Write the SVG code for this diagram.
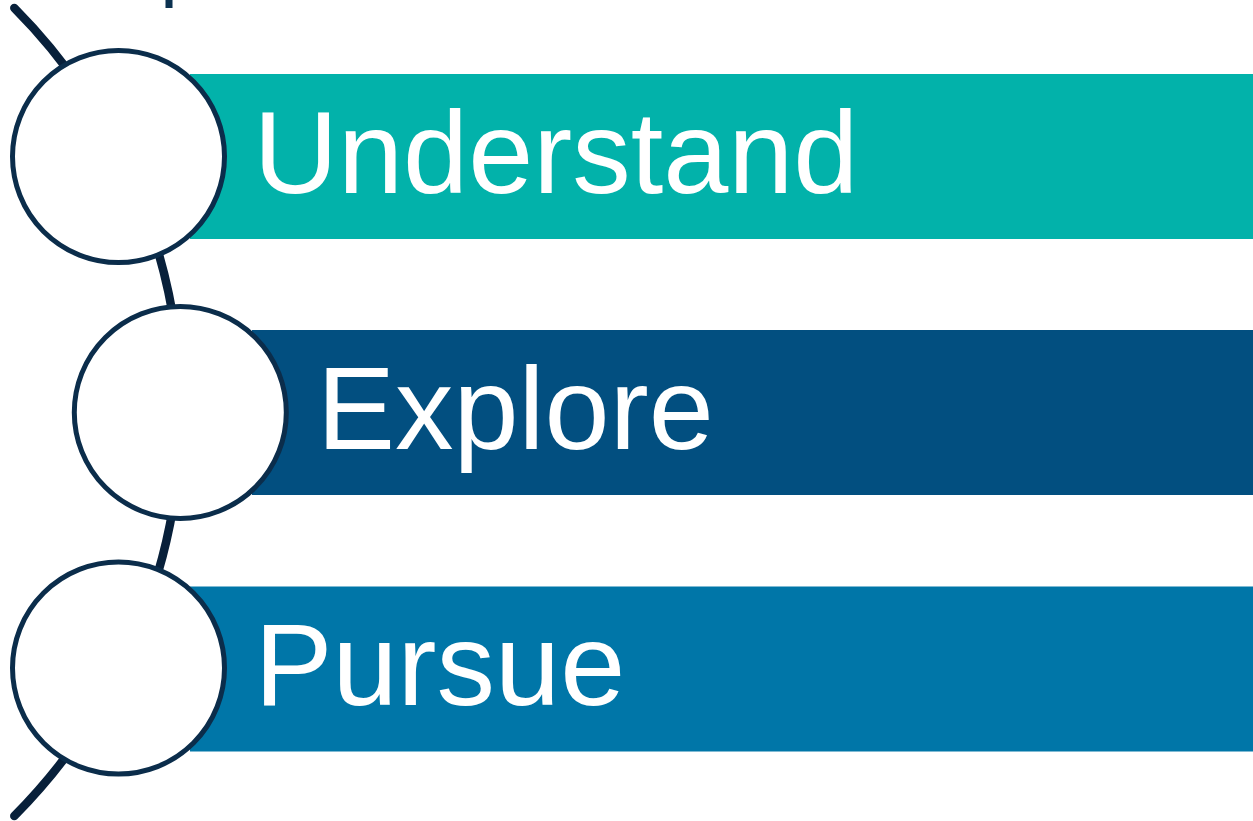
<svg xmlns="http://www.w3.org/2000/svg" width="1253" height="821" viewBox="0 0 1253 821">
  <style>
    .bar { stroke: none; }
    .node-circle { fill: #ffffff; stroke: #0b2d4b; stroke-width: 5; }
    .label { font-family: "Liberation Sans", Arial, sans-serif; font-size: 117px; fill: #ffffff; }
    .spine { fill: none; stroke: #08203a; stroke-width: 8.5; stroke-linecap: round; }
  </style>
  <rect width="1253" height="821" fill="#ffffff"/>

  <!-- small fragment at the top edge -->
  <rect x="165.5" y="0" width="7" height="8" fill="#0b3150"/>

  <!-- connectors: the curved spine linking the three steps -->
  <g id="connectors">
    <path class="spine" d="M 14.3 8 A 573 573 0 0 1 14.3 816"/>
  </g>

  <g id="node-understand">
    <rect class="bar" x="190" y="74" width="1063" height="165" fill="#02b2aa"/>
    <circle class="node-circle" cx="118.5" cy="156.5" r="106"/>
    <text class="label" x="253.5" y="193.3">Understand</text>
  </g>

  <g id="node-explore">
    <rect class="bar" x="252" y="330" width="1001" height="165" fill="#024f80"/>
    <circle class="node-circle" cx="180.3" cy="412.4" r="106"/>
    <text class="label" x="317" y="449.3">Explore</text>
  </g>

  <g id="node-pursue">
    <rect class="bar" x="190" y="586.5" width="1063" height="165" fill="#0076a8"/>
    <circle class="node-circle" cx="118.5" cy="668" r="106"/>
    <text class="label" x="254.5" y="705">Pursue</text>
  </g>
</svg>
